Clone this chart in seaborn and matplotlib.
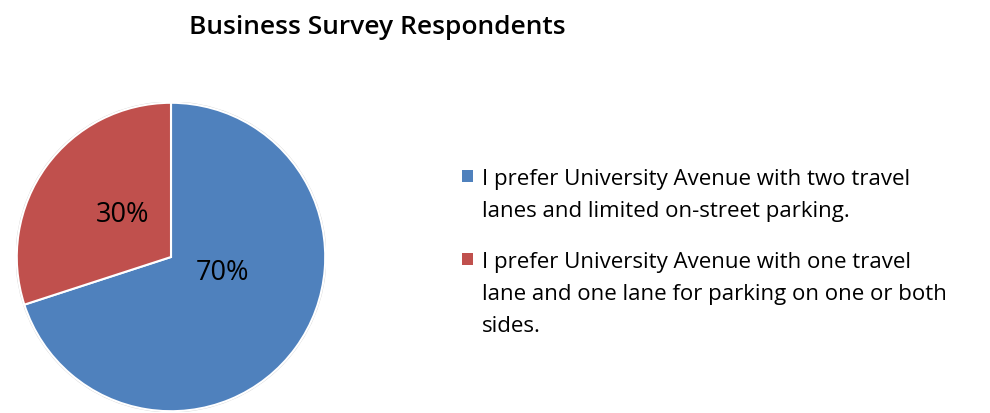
import matplotlib
matplotlib.use("Agg")
import matplotlib.pyplot as plt
from matplotlib.patches import Rectangle
import seaborn as sns

sns.set_theme(style="white")
plt.rcParams['font.family'] = ['Open Sans', 'DejaVu Sans']
plt.rcParams['text.color'] = 'black'

categories = ["I prefer University Avenue with two travel\nlanes and limited on-street parking.",
              "I prefer University Avenue with one travel\nlane and one lane for parking on one or both\nsides."]
values = [70, 30]
pct_labels = ["70%", "30%"]
colors = ["#4F81BD", "#C0504D"]

W, H = 990, 414
fig = plt.figure(figsize=(W / 100, H / 100), dpi=100)
fig.patch.set_facecolor("white")

cx, cy, r = 171, 258, 155
ax = fig.add_axes([(cx - r) / W, (H - cy - r) / H, 2 * r / W, 2 * r / H])

wedges, _ = ax.pie(values, colors=colors, startangle=90, counterclock=False,
                   radius=0.995, wedgeprops=dict(edgecolor="white", linewidth=1.5))
outer = plt.Circle((0, 0), 0.998, fill=False, edgecolor="#d0d0d0", linewidth=1.2, zorder=0)
ax.add_patch(outer)
ax.set_xlim(-1, 1)
ax.set_ylim(-1, 1)
ax.axis("off")

label_pos = [(0.33, -0.097), (-0.313, 0.277)]
for txt, (x, y) in zip(pct_labels, label_pos):
    ax.text(x, y, txt, ha="center", va="center", fontsize=19.5, color="black")

fig.text(377 / W, 1 - 28 / H, "Business Survey Respondents", ha="center", va="center",
         fontsize=19, fontweight="semibold", color="black")

# legend (handle aligned with the first line of each entry)
baselines = [[185, 217], [268, 300, 332]]
for label, col, bl in zip(categories, colors, baselines):
    top = bl[0] - 14
    fig.patches.append(Rectangle((462 / W, 1 - (top + 12) / H), 11 / W, 12 / H,
                                 transform=fig.transFigure, facecolor=col, edgecolor="none"))
    for line, y in zip(label.split("\n"), bl):
        fig.text(482 / W, 1 - y / H, line, ha="left", va="baseline",
                 fontsize=16, color="black")

fig.savefig("out.png", dpi=100)
